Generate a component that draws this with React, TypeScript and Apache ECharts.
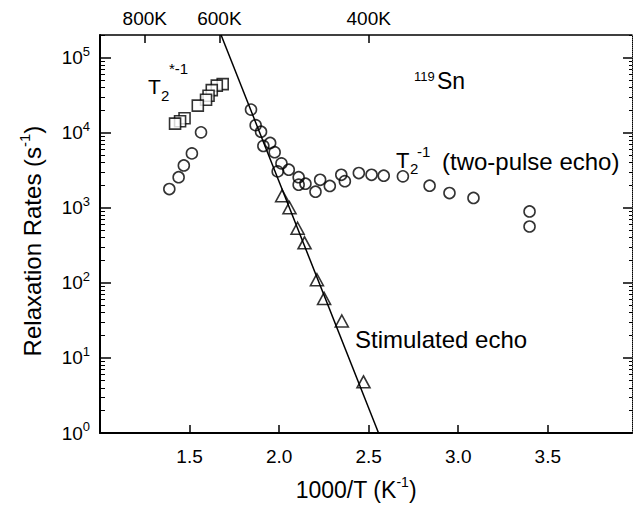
import React, { useEffect, useRef } from 'react';
import * as echarts from 'echarts';

const FONT = '"Liberation Sans", Arial, Helvetica, sans-serif';

// x: 1000/T (K^-1), y: relaxation rate (s^-1)
const t2StarX = [1.419, 1.447, 1.472, 1.546, 1.592, 1.606, 1.624, 1.652, 1.685];
const t2StarY = [13200, 14200, 15600, 22900, 27500, 31100, 36900, 42300, 44300];

const t2X = [1.387, 1.439, 1.468, 1.513, 1.564, 1.843, 1.869, 1.899, 1.95, 1.912, 1.975, 2.013, 1.992, 2.054, 2.109, 2.109, 2.147, 2.203, 2.229, 2.283, 2.347, 2.367, 2.445, 2.516, 2.584, 2.691, 2.84, 2.951, 3.085, 3.398, 3.398];
const t2Y = [1775, 2550, 3660, 5300, 10100, 20300, 12600, 10300, 7290, 6660, 5500, 3900, 3050, 3210, 2550, 2030, 2090, 1635, 2360, 1950, 2750, 2260, 2900, 2750, 2670, 2620, 1965, 1570, 1350, 893, 563];

const stimX = [2.017, 2.058, 2.103, 2.142, 2.211, 2.251, 2.35, 2.471];
const stimY = [1445, 1000, 533, 341, 110, 62, 31, 4.8];

const fitX = [1.676, 2.555];
const fitY = [200000, 1];

const xTicks = [1.5, 2.0, 2.5, 3.0, 3.5];
const topTempsK = [800, 600, 400];
const yMajor = [1, 10, 100, 1000, 10000, 100000];
const yMinorMult = [2, 3, 4, 5, 6, 7, 8, 9];

const X_MIN = 1;
const X_MAX = 3.97;
const Y_MIN = 1;
const Y_MAX = 200000;

const zip = (xs: number[], ys: number[]) => xs.map((x, i) => [x, ys[i]]);

const yMinor: number[] = [];
yMajor.forEach((d) => yMinorMult.forEach((m) => { if (m * d <= Y_MAX) yMinor.push(m * d); }));
const topTicks = topTempsK.map((t) => 1000 / t);

const txt = (text: string, x: number, y: number, fontSize: number, extra: any = {}) => ({
  type: 'text',
  x,
  y,
  z: 100,
  style: {
    text,
    fontSize,
    fontFamily: FONT,
    fill: '#000',
    align: 'left',
    textAlign: 'left',
    verticalAlign: 'middle',
    textVerticalAlign: 'middle',
    ...extra,
  },
});

export default function App() {
  const ref = useRef<HTMLDivElement>(null);
  useEffect(() => {
    const chart = echarts.init(ref.current!, null, { renderer: 'svg' });
    const baseX = {
      type: 'value',
      min: X_MIN,
      max: X_MAX,
      splitLine: { show: false },
    };
    const baseY = {
      type: 'log',
      logBase: 10,
      min: Y_MIN,
      max: Y_MAX,
      splitLine: { show: false },
      minorTick: { show: false },
    };
    const option: any = {
      animation: false,
      backgroundColor: '#fff',
      grid: { left: 100, top: 35, width: 532, height: 398, containLabel: false },
      xAxis: [
        {
          ...baseX,
          position: 'bottom',
          axisLine: { onZero: false, lineStyle: { color: '#000', width: 2 } },
          axisTick: { inside: true, length: 8, customValues: xTicks, lineStyle: { color: '#000', width: 1.5 } },
          axisLabel: {
            customValues: xTicks,
            formatter: (v: number) => v.toFixed(1),
            fontSize: 19,
            fontFamily: FONT,
            color: '#000',
            margin: 14,
          },
        },
        {
          ...baseX,
          position: 'top',
          axisLine: { onZero: false, lineStyle: { color: '#000', width: 1.5 } },
          axisTick: { inside: true, length: 8, customValues: topTicks, lineStyle: { color: '#000', width: 1.5 } },
          axisLabel: {
            customValues: topTicks,
            formatter: (v: number) => `${Math.round(1000 / v)}K`,
            fontSize: 19,
            fontFamily: FONT,
            color: '#000',
            margin: 7,
          },
        },
      ],
      yAxis: [
        {
          ...baseY,
          position: 'left',
          axisLine: { onZero: false, lineStyle: { color: '#000', width: 2 } },
          axisTick: { inside: true, length: 11, customValues: yMajor, lineStyle: { color: '#000', width: 1.5 } },
          axisLabel: {
            customValues: yMajor,
            margin: 10,
            formatter: (v: number) => `{b|10}{s|${Math.round(Math.log10(v))}}`,
            rich: {
              b: { fontSize: 19, fontFamily: FONT, color: '#000', lineHeight: 26 },
              s: { fontSize: 13, fontFamily: FONT, color: '#000', lineHeight: 13, verticalAlign: 'top' },
            },
          },
        },
        {
          ...baseY,
          position: 'left',
          axisLine: { show: false, onZero: false },
          axisTick: { inside: true, length: 5, customValues: yMinor, lineStyle: { color: '#000', width: 1 } },
          axisLabel: { show: false },
        },
        {
          ...baseY,
          position: 'right',
          axisLine: { onZero: false, lineStyle: { color: '#000', width: 1, type: 'dotted' } },
          axisTick: { inside: true, length: 9, customValues: yMajor, lineStyle: { color: '#000', width: 1.5 } },
          axisLabel: { show: false },
        },
        {
          ...baseY,
          position: 'right',
          axisLine: { show: false, onZero: false },
          axisTick: { inside: true, length: 3, customValues: yMinor, lineStyle: { color: '#000', width: 1 } },
          axisLabel: { show: false },
        },
      ],
      series: [
        {
          type: 'line',
          data: zip(fitX, fitY),
          showSymbol: false,
          symbol: 'none',
          clip: true,
          silent: true,
          lineStyle: { color: '#000', width: 1.5 },
          z: 1,
        },
        {
          type: 'scatter',
          data: zip(t2X, t2Y),
          symbol: 'circle',
          symbolSize: 11,
          itemStyle: { color: 'rgba(0,0,0,0)', borderColor: '#000', borderWidth: 1.6 },
          z: 3,
        },
        {
          type: 'scatter',
          // drawn from high to low so the lower-left squares sit in front
          data: zip(t2StarX, t2StarY).reverse(),
          symbol: 'rect',
          symbolSize: 11,
          itemStyle: { color: '#fff', borderColor: '#000', borderWidth: 1.6 },
          z: 3,
        },
        {
          type: 'scatter',
          data: zip(stimX, stimY),
          symbol: 'triangle',
          symbolSize: [13, 12],
          itemStyle: { color: 'rgba(0,0,0,0)', borderColor: '#000', borderWidth: 1.6 },
          z: 3,
        },
      ],
      graphic: [
        txt('T', 148, 86, 21),
        txt('2', 161, 95, 15),
        txt('*-1', 169, 68.5, 15),
        txt('119', 414, 76, 13),
        txt('Sn', 437, 81, 23),
        txt('T', 396, 160, 22),
        txt('2', 410, 168, 15),
        txt('-1', 417, 151, 15),
        txt('(two-pulse echo)', 442, 161, 24),
        txt('Stimulated echo', 355, 339, 24),
        {
          type: 'text',
          x: 32,
          y: 241,
          rotation: Math.PI / 2,
          z: 100,
          style: {
            text: '{a|Relaxation Rates (s}{b|-1}{a|)}',
            align: 'center',
            textAlign: 'center',
            verticalAlign: 'middle',
            textVerticalAlign: 'middle',
            rich: {
              a: { fontSize: 24, fontFamily: FONT, color: '#000', lineHeight: 30 },
              b: { fontSize: 15, fontFamily: FONT, color: '#000', lineHeight: 15, verticalAlign: 'top' },
            },
          },
        },
        {
          type: 'text',
          x: 356,
          y: 490,
          z: 100,
          style: {
            text: '{a|1000/T (K}{b|-1}{a|)}',
            align: 'center',
            textAlign: 'center',
            verticalAlign: 'middle',
            textVerticalAlign: 'middle',
            rich: {
              a: { fontSize: 23, fontFamily: FONT, color: '#000', lineHeight: 30 },
              b: { fontSize: 14, fontFamily: FONT, color: '#000', lineHeight: 15, verticalAlign: 'top' },
            },
          },
        },
      ],
    };
    chart.setOption(option);
    return () => chart.dispose();
  }, []);
  return <div ref={ref} style={{ position: 'fixed', left: 0, top: 0, width: 633, height: 506 }} />;
}
